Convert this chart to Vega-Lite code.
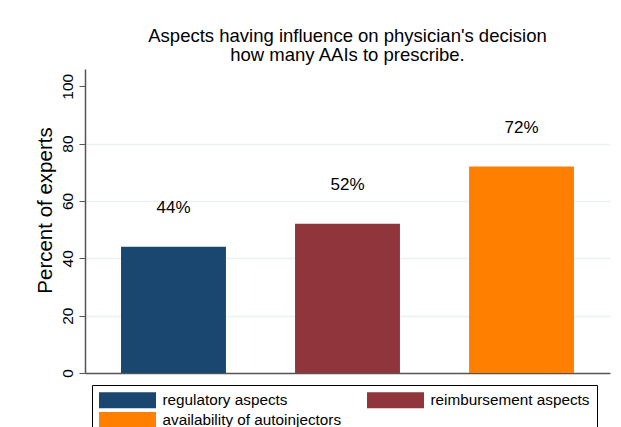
{
  "$schema": "https://vega.github.io/schema/vega-lite/v6.json",
  "width": 525,
  "height": 304,
  "autosize": {"type": "none"},
  "padding": {"left": 85, "top": 69, "right": 11, "bottom": 54},
  "background": "white",
  "title": {
    "text": ["Aspects having influence on physician's decision", "how many AAIs to prescribe."],
    "font": "Liberation Sans",
    "fontSize": 18.5,
    "fontWeight": "normal",
    "color": "#000000",
    "lineHeight": 19,
    "offset": 5,
    "anchor": "middle",
    "frame": "group"
  },
  "data": {
    "values": [
      {"aspect": "regulatory aspects", "percent": 44, "label": "44%"},
      {"aspect": "reimbursement aspects", "percent": 52, "label": "52%"},
      {"aspect": "availability of autoinjectors", "percent": 72, "label": "72%"}
    ]
  },
  "encoding": {
    "x": {
      "field": "aspect",
      "type": "nominal",
      "sort": null,
      "scale": {"paddingInner": 0.397, "paddingOuter": 0.207},
      "axis": {"labels": false, "ticks": false, "title": null, "grid": false, "domainColor": "#555555", "domainWidth": 1.5}
    },
    "y": {
      "field": "percent",
      "type": "quantitative",
      "scale": {"domain": [0, 106], "nice": false},
      "axis": {
        "values": [0, 20, 40, 60, 80, 100],
        "title": "Percent of experts",
        "titleFont": "Liberation Sans",
        "titleFontSize": 20.5,
        "titleFontWeight": "normal",
        "titleColor": "#000000",
        "titlePadding": 5,
        "titleY": 141,
        "labelAngle": -90,
        "labelAlign": "center",
        "labelBaseline": "alphabetic",
        "labelFont": "Liberation Sans",
        "labelFontSize": 15.5,
        "labelColor": "#000000",
        "labelPadding": 7,
        "tickSize": 6,
        "tickColor": "#555555",
        "domainColor": "#555555",
        "domainWidth": 1.5,
        "grid": true,
        "gridColor": "#eaf2f3",
        "gridWidth": 1.5,
        "gridOpacity": {"expr": "datum.value > 0 && datum.value < 100 ? 1 : 0"}
      }
    }
  },
  "layer": [
    {
      "mark": {"type": "bar", "opacity": 1},
      "encoding": {
        "color": {
          "field": "aspect",
          "type": "nominal",
          "sort": null,
          "scale": {
            "domain": ["regulatory aspects", "reimbursement aspects", "availability of autoinjectors"],
            "range": ["#1a476f", "#90353b", "#ff7f00"]
          },
          "legend": {
            "orient": "none",
            "legendX": 7,
            "legendY": 316,
            "direction": "horizontal",
            "columns": 2,
            "title": null,
            "symbolType": "M-3.5625,-1H3.5625V1H-3.5625Z",
            "symbolSize": 256,
            "symbolStrokeWidth": 0,
            "symbolOpacity": 1,
            "symbolOffset": 20.5,
            "labelOffset": 27,
            "labelFont": "Liberation Sans",
            "labelFontSize": 15.3,
            "labelColor": "#000000",
            "labelLimit": 400,
            "columnPadding": 25,
            "rowPadding": 3,
            "padding": 7,
            "strokeColor": "#000000",
            "fillColor": "white"
          }
        }
      }
    },
    {
      "mark": {"type": "text", "dy": -39, "font": "Liberation Sans", "fontSize": 17, "color": "#000000", "baseline": "middle"},
      "encoding": {"text": {"field": "label"}}
    }
  ],
  "config": {
    "view": {"stroke": null}
  }
}
